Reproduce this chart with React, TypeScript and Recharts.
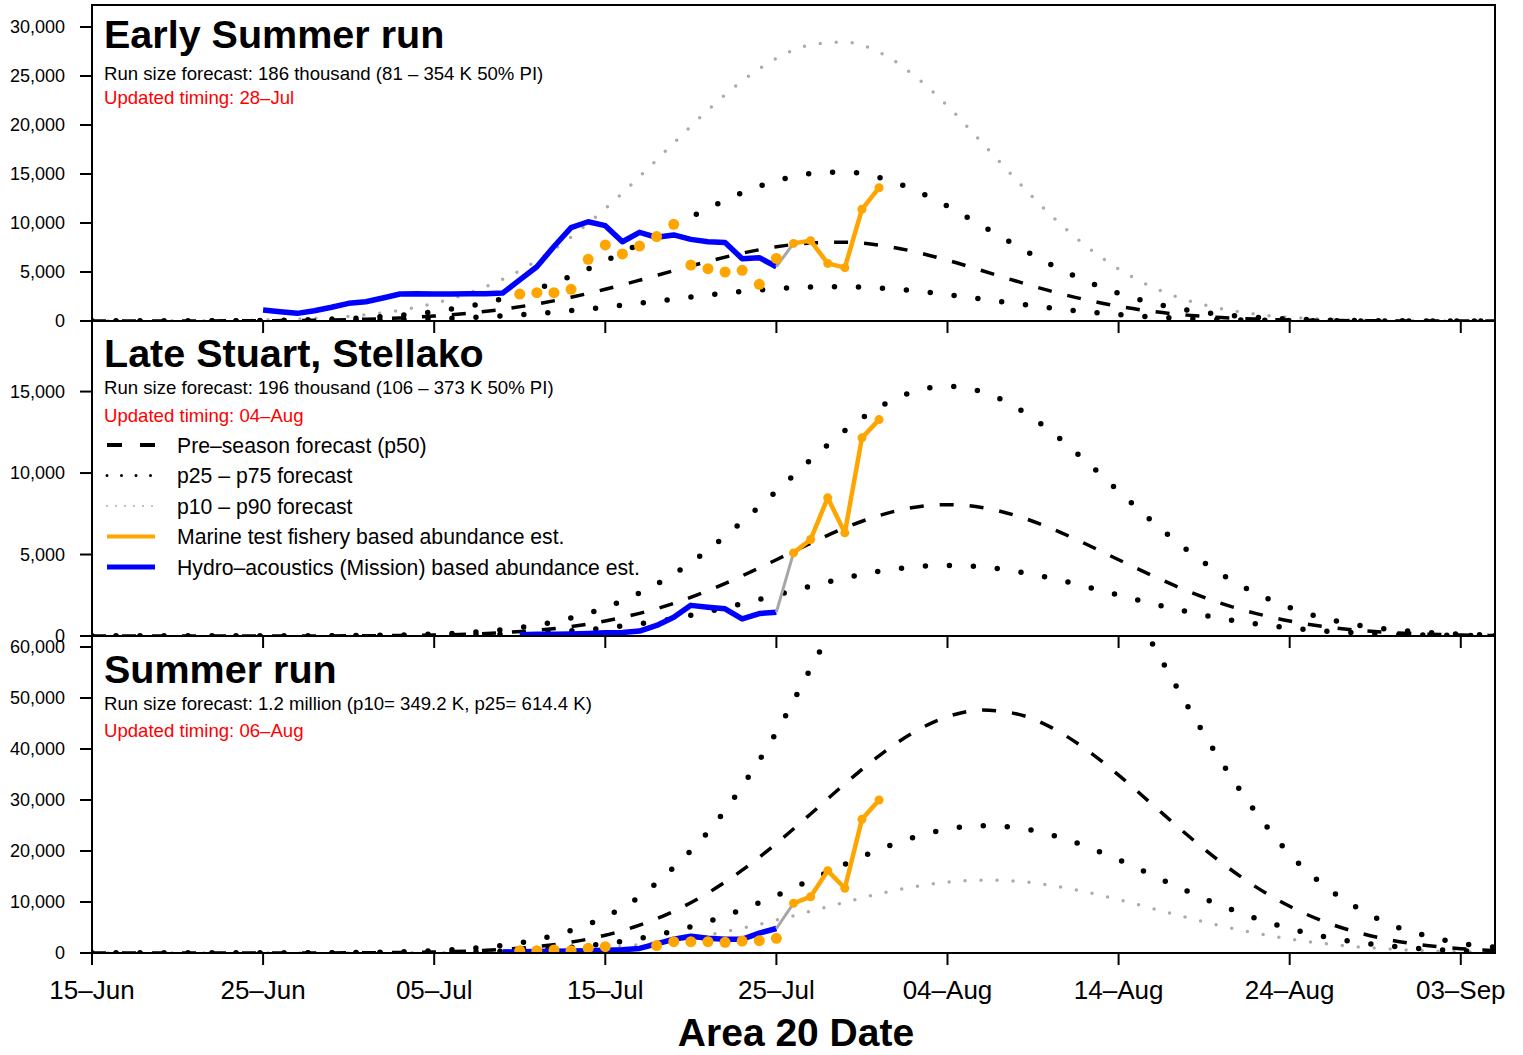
import React from 'react';
import { LineChart, Line, XAxis, YAxis } from 'recharts';

const FONT = '"Liberation Sans", Arial, Helvetica, sans-serif';
const ORANGE = '#FFA500';
const BLUE = '#0000FF';
const GREY = '#ABABAB';
const CONNECT_GREY = '#A6A6A6';

// x axis: day index from 15-Jun
const DATE_TICK_DAYS = [0, 10, 20, 30, 40, 50, 60, 70, 80];
const DATE_TICK_LABELS = ['15–Jun', '25–Jun', '05–Jul', '15–Jul', '25–Jul', '04–Aug', '14–Aug', '24–Aug', '03–Sep'];

const FORECAST_DAYS = [0, 2, 4, 6, 8, 10, 12, 14, 16, 18, 20, 22, 24, 26, 28, 30, 32, 34, 36, 38, 40, 42, 44, 46, 48, 50, 52, 54, 56, 58, 60, 62, 64, 66, 68, 70, 72, 74, 76, 78, 80, 82];

// ---- Early Summer run ----
const ES_P50 = [0, 1, 3, 7, 15, 30, 56, 100, 180, 310, 510, 800, 1200, 1740, 2420, 3240, 4160, 5130, 6080, 6920, 7570, 7960, 8040, 7750, 7100, 6200, 5150, 4080, 3070, 2200, 1500, 970, 600, 355, 198, 105, 54, 26, 12, 5, 2, 1];
const ES_P25 = [0, 0, 1, 3, 7, 13, 24, 44, 78, 135, 222, 348, 522, 757, 1053, 1409, 1810, 2232, 2645, 3010, 3293, 3463, 3497, 3371, 3089, 2697, 2240, 1775, 1335, 957, 653, 422, 261, 154, 86, 46, 23, 11, 5, 2, 1, 0];
const ES_P75 = [0, 2, 6, 13, 28, 57, 106, 189, 340, 586, 964, 1510, 2270, 3290, 4570, 6120, 7860, 9700, 11490, 13080, 14310, 15040, 15200, 14650, 13420, 11720, 9730, 7710, 5800, 4160, 2840, 1830, 1130, 670, 370, 200, 100, 50, 23, 9, 4, 2];
const ES_P90 = [0, 4, 11, 25, 53, 106, 198, 354, 637, 1097, 1805, 2832, 4248, 6160, 8567, 11470, 14726, 18160, 21523, 24497, 26798, 28178, 28462, 27435, 25134, 21948, 18231, 14443, 10868, 7788, 5310, 3434, 2124, 1257, 701, 372, 191, 92, 42, 18, 7, 4];

const ES_HYDRO_DAYS = [10, 11, 12, 13, 14, 15, 16, 17, 18, 19, 20, 21, 22, 23, 24, 25, 26, 27, 28, 29, 30, 31, 32, 33, 34, 35, 36, 37, 38, 39, 40];
const ES_HYDRO = [1120, 950, 780, 1050, 1400, 1800, 1970, 2350, 2750, 2780, 2750, 2760, 2780, 2780, 2850, 4200, 5540, 7600, 9520, 10130, 9730, 8090, 9050, 8540, 8780, 8330, 8090, 8020, 6360, 6460, 5540];
const ES_DOT_DAYS = [25, 26, 27, 28, 29, 30, 31, 32, 33, 34, 35, 36, 37, 38, 39, 40];
const ES_DOTS = [2750, 2890, 2890, 3230, 6290, 7760, 6840, 7650, 8610, 9860, 5710, 5340, 5000, 5170, 3740, 6390];
const ES_LINK_DAYS = [40, 41];
const ES_LINK = [5540, 7920];
const ES_MARINE_DAYS = [41, 42, 43, 44, 45, 46];
const ES_MARINE = [7920, 8200, 5880, 5440, 11400, 13600];

// ---- Late Stuart, Stellako ----
const LS_P50 = [0, 0, 0, 0, 0, 1, 3, 7, 15, 31, 60, 114, 205, 352, 580, 920, 1390, 2000, 2780, 3690, 4680, 5690, 6630, 7390, 7890, 8060, 7890, 7390, 6630, 5690, 4680, 3690, 2780, 2000, 1390, 920, 580, 352, 205, 114, 60, 31];
const LS_P25 = [0, 0, 0, 0, 0, 1, 2, 4, 8, 17, 32, 61, 110, 189, 311, 494, 746, 1074, 1493, 1982, 2513, 3056, 3560, 3968, 4237, 4328, 4237, 3968, 3560, 3056, 2513, 1982, 1493, 1074, 746, 494, 311, 189, 110, 61, 32, 17];
const LS_P75 = [0, 0, 0, 0, 0, 2, 6, 13, 29, 59, 114, 217, 390, 669, 1102, 1748, 2641, 3800, 5282, 7011, 8892, 10811, 12597, 14041, 14991, 15314, 14991, 14041, 12597, 10811, 8892, 7011, 5282, 3800, 2641, 1748, 1102, 669, 390, 217, 114, 59];

const LS_HYDRO_DAYS = [25, 26, 27, 28, 29, 30, 31, 32, 33, 34, 35, 36, 37, 38, 39, 40];
const LS_HYDRO = [80, 100, 110, 130, 160, 200, 220, 300, 650, 1150, 1880, 1770, 1670, 1050, 1380, 1460];
const LS_LINK_DAYS = [40, 41];
const LS_LINK = [1460, 5100];
const LS_MARINE_DAYS = [41, 42, 43, 44, 45, 46];
const LS_MARINE = [5100, 5920, 8480, 6330, 12160, 13280];

// ---- Summer run ----
const SU_P50 = [0, 0, 0, 1, 2, 4, 9, 21, 46, 98, 197, 380, 700, 1250, 2130, 3480, 5450, 8180, 11770, 16240, 21490, 27260, 33160, 38670, 43230, 46340, 47630, 46930, 44340, 40160, 34880, 29040, 23180, 17750, 13020, 9160, 6180, 4000, 2480, 1470, 840, 460];
const SU_P25 = [0, 0, 0, 1, 1, 2, 5, 11, 24, 51, 103, 199, 367, 655, 1116, 1824, 2856, 4286, 6167, 8510, 11261, 14284, 17376, 20263, 22653, 24282, 24958, 24591, 23234, 21044, 18277, 15217, 12146, 9301, 6822, 4800, 3238, 2096, 1300, 770, 440, 241];
const SU_P75 = [0, 0, 1, 2, 4, 9, 20, 45, 100, 220, 450, 850, 1500, 2650, 4450, 7100, 11040, 16800, 23700, 32700, 43300, 55800, 68000, 79300, 88600, 95000, 97600, 96300, 91100, 82800, 72200, 60500, 48600, 37500, 27700, 19400, 13250, 8770, 5430, 3380, 1900, 1150];
const SU_P10 = [0, 0, 0, 0, 1, 1, 3, 6, 14, 29, 59, 114, 210, 375, 639, 1044, 1635, 2454, 3531, 4872, 6447, 8178, 9948, 11601, 12969, 13902, 14289, 14079, 13302, 12048, 10464, 8712, 6954, 5325, 3906, 2748, 1854, 1200, 744, 441, 252, 138];

const SU_HYDRO_DAYS = [24, 25, 26, 27, 28, 29, 30, 31, 32, 33, 34, 35, 36, 37, 38, 39, 40];
const SU_HYDRO = [200, 250, 300, 350, 400, 450, 550, 650, 900, 1800, 2700, 3300, 2900, 2700, 2700, 3900, 4800];
const SU_DOT_DAYS = [25, 26, 27, 28, 29, 30, 33, 34, 35, 36, 37, 38, 39, 40];
const SU_DOTS = [450, 450, 590, 450, 920, 1240, 1450, 2220, 2220, 2220, 2090, 2350, 2420, 2880];
const SU_LINK_DAYS = [40, 41];
const SU_LINK = [4800, 9740];
const SU_MARINE_DAYS = [41, 42, 43, 44, 45, 46];
const SU_MARINE = [9740, 11040, 16140, 12690, 26210, 30000];

const ES_Y_TICKS = [0, 5000, 10000, 15000, 20000, 25000, 30000];
const LS_Y_TICKS = [0, 5000, 10000, 15000];
const SU_Y_TICKS = [0, 10000, 20000, 30000, 40000, 50000, 60000];

const toSeries = (days: number[], vals: number[]) => days.map((d, i) => ({ d, v: vals[i] }));
const fmtNum = (v: number) => String(Math.round(v)).replace(/\B(?=(\d{3})+(?!\d))/g, ',');

type PanelProps = {
  top: number;
  plotTop: number;
  plotHeight: number;
  axisHeight: number;
  yMax: number;
  yTicks: number[];
  showDates: boolean;
  p50: number[];
  p25: number[];
  p75: number[];
  grey?: number[];
  hydroDays: number[];
  hydro: number[];
  dotDays?: number[];
  dots?: number[];
  linkDays: number[];
  link: number[];
  marineDays: number[];
  marine: number[];
};

function Panel(p: PanelProps) {
  const height = p.plotTop + p.plotHeight + p.axisHeight;
  const axisStyle = { stroke: '#000', strokeWidth: 2 };
  return (
    <div style={{ position: 'absolute', left: 0, top: p.top }}>
      <LineChart width={1523} height={height} margin={{ top: p.plotTop, right: 28, bottom: 0, left: 0 }}>
        <XAxis
          type="number"
          dataKey="d"
          domain={[0, 82]}
          ticks={DATE_TICK_DAYS}
          interval={0}
          allowDataOverflow
          height={p.axisHeight}
          tickSize={12}
          tickMargin={16}
          axisLine={axisStyle}
          tickLine={axisStyle}
          tick={{ fill: '#000', fontSize: 26, fontFamily: FONT }}
          tickFormatter={(v: number) => (p.showDates ? DATE_TICK_LABELS[DATE_TICK_DAYS.indexOf(v)] : '')}
        />
        <YAxis
          type="number"
          domain={[0, p.yMax]}
          ticks={p.yTicks}
          interval={0}
          allowDataOverflow
          width={92}
          tickSize={12}
          tickMargin={15}
          axisLine={axisStyle}
          tickLine={axisStyle}
          tick={{ fill: '#000', fontSize: 18, fontFamily: FONT }}
          tickFormatter={fmtNum}
        />
        {p.grey && (
          <Line data={toSeries(FORECAST_DAYS, p.grey)} dataKey="v" type="monotone" stroke={GREY} strokeWidth={3.5}
            strokeDasharray="0 16" strokeLinecap="round" dot={false} activeDot={false} isAnimationActive={false} />
        )}
        <Line data={toSeries(FORECAST_DAYS, p.p25)} dataKey="v" type="monotone" stroke="#000" strokeWidth={5.5}
          strokeDasharray="0 24" strokeLinecap="round" dot={false} activeDot={false} isAnimationActive={false} />
        <Line data={toSeries(FORECAST_DAYS, p.p75)} dataKey="v" type="monotone" stroke="#000" strokeWidth={5.5}
          strokeDasharray="0 24" strokeLinecap="round" dot={false} activeDot={false} isAnimationActive={false} />
        <Line data={toSeries(FORECAST_DAYS, p.p50)} dataKey="v" type="monotone" stroke="#000" strokeWidth={3.5}
          strokeDasharray="14 16" dot={false} activeDot={false} isAnimationActive={false} />
        <Line data={toSeries(p.hydroDays, p.hydro)} dataKey="v" type="linear" stroke={BLUE} strokeWidth={5.5}
          strokeLinejoin="round" dot={false} activeDot={false} isAnimationActive={false} />
        {p.dotDays && p.dots && (
          <Line data={toSeries(p.dotDays, p.dots)} dataKey="v" type="linear" stroke="none" strokeWidth={0}
            dot={{ r: 5.5, fill: ORANGE, stroke: ORANGE, strokeWidth: 0 }} activeDot={false} isAnimationActive={false} />
        )}
        <Line data={toSeries(p.linkDays, p.link)} dataKey="v" type="linear" stroke={CONNECT_GREY} strokeWidth={3}
          dot={false} activeDot={false} isAnimationActive={false} />
        <Line data={toSeries(p.marineDays, p.marine)} dataKey="v" type="linear" stroke={ORANGE} strokeWidth={4.5}
          strokeLinejoin="round" dot={{ r: 4.5, fill: ORANGE, stroke: ORANGE, strokeWidth: 0 }} activeDot={false}
          isAnimationActive={false} />
      </LineChart>
    </div>
  );
}

const LEGEND_ITEMS = [
  { label: 'Pre–season forecast (p50)', stroke: '#000', width: 4, dash: '15 18', cap: 'butt' },
  { label: 'p25 – p75 forecast', stroke: '#000', width: 3, dash: '0 14.5', cap: 'round' },
  { label: 'p10 – p90 forecast', stroke: GREY, width: 2, dash: '0 9', cap: 'round' },
  { label: 'Marine test fishery based abundance est.', stroke: ORANGE, width: 4, dash: undefined, cap: 'butt' },
  { label: 'Hydro–acoustics (Mission) based abundance est.', stroke: BLUE, width: 5, dash: undefined, cap: 'butt' },
];

const PANEL_TEXT = [
  { title: 'Early Summer run', sub: 'Run size forecast: 186 thousand (81 – 354 K 50% PI)', timing: 'Updated timing: 28–Jul', yT: 48, yS: 80, yR: 104 },
  { title: 'Late Stuart, Stellako', sub: 'Run size forecast: 196 thousand (106 – 373 K 50% PI)', timing: 'Updated timing: 04–Aug', yT: 366.5, yS: 394, yR: 421.5 },
  { title: 'Summer run', sub: 'Run size forecast: 1.2 million (p10= 349.2 K, p25= 614.4 K)', timing: 'Updated timing: 06–Aug', yT: 682.5, yS: 710, yR: 737 },
];

export default function App() {
  return (
    <div style={{ position: 'absolute', left: 0, top: 0, width: 1523, height: 1055, background: '#fff', overflow: 'hidden' }}>
      <Panel top={0} plotTop={5} plotHeight={316} axisHeight={14} yMax={32245} yTicks={ES_Y_TICKS} showDates={false}
        p50={ES_P50} p25={ES_P25} p75={ES_P75} grey={ES_P90}
        hydroDays={ES_HYDRO_DAYS} hydro={ES_HYDRO} dotDays={ES_DOT_DAYS} dots={ES_DOTS}
        linkDays={ES_LINK_DAYS} link={ES_LINK} marineDays={ES_MARINE_DAYS} marine={ES_MARINE} />
      <Panel top={321} plotTop={0} plotHeight={315} axisHeight={14} yMax={19330} yTicks={LS_Y_TICKS} showDates={false}
        p50={LS_P50} p25={LS_P25} p75={LS_P75}
        hydroDays={LS_HYDRO_DAYS} hydro={LS_HYDRO}
        linkDays={LS_LINK_DAYS} link={LS_LINK} marineDays={LS_MARINE_DAYS} marine={LS_MARINE} />
      <Panel top={636} plotTop={0} plotHeight={317} axisHeight={60} yMax={62160} yTicks={SU_Y_TICKS} showDates={true}
        p50={SU_P50} p25={SU_P25} p75={SU_P75} grey={SU_P10}
        hydroDays={SU_HYDRO_DAYS} hydro={SU_HYDRO} dotDays={SU_DOT_DAYS} dots={SU_DOTS}
        linkDays={SU_LINK_DAYS} link={SU_LINK} marineDays={SU_MARINE_DAYS} marine={SU_MARINE} />

      <div style={{ position: 'absolute', left: 91, top: 4, width: 1405, height: 950, border: '2px solid #000', boxSizing: 'border-box', pointerEvents: 'none' }} />

      <svg width={1523} height={1055} style={{ position: 'absolute', left: 0, top: 0, pointerEvents: 'none' }} fontFamily={FONT}>
        {PANEL_TEXT.map((t) => (
          <g key={t.title}>
            <text x={104} y={t.yT} fontSize={39.5} fontWeight="bold" fill="#000">{t.title}</text>
            <text x={104} y={t.yS} fontSize={18.6} fill="#000">{t.sub}</text>
            <text x={104} y={t.yR} fontSize={18.6} fill="#FF0000">{t.timing}</text>
          </g>
        ))}
        {LEGEND_ITEMS.map((it, i) => {
          const cy = 445 + i * 30.5;
          return (
            <g key={it.label}>
              <line x1={107} x2={155} y1={cy} y2={cy} stroke={it.stroke} strokeWidth={it.width}
                strokeDasharray={it.dash} strokeLinecap={it.cap as any} />
              <text x={177} y={cy + 7.5} fontSize={21.2} fill="#000">{it.label}</text>
            </g>
          );
        })}
        <text x={796} y={1046} fontSize={39} fontWeight="bold" textAnchor="middle" fill="#000">Area 20 Date</text>
      </svg>
    </div>
  );
}
